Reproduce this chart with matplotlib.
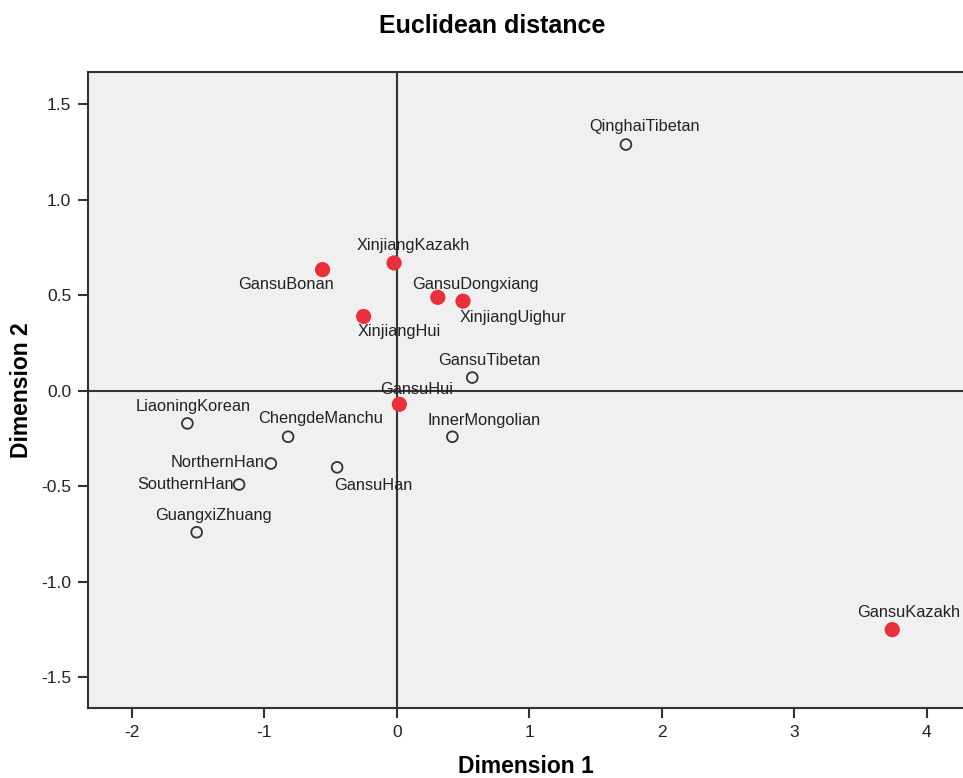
import matplotlib.pyplot as plt

plt.rcParams['font.family'] = ['Liberation Sans', 'DejaVu Sans']
plt.rcParams['axes.unicode_minus'] = False

names = ['QinghaiTibetan', 'XinjiangKazakh', 'GansuBonan', 'GansuDongxiang',
         'XinjiangUighur', 'XinjiangHui', 'GansuTibetan', 'GansuHui',
         'LiaoningKorean', 'ChengdeManchu', 'InnerMongolian', 'NorthernHan',
         'GansuHan', 'SouthernHan', 'GuangxiZhuang', 'GansuKazakh']
dim1 = [1.73, -0.02, -0.56, 0.31, 0.50, -0.25, 0.57, 0.02,
        -1.58, -0.82, 0.42, -0.95, -0.45, -1.19, -1.51, 3.74]
dim2 = [1.29, 0.67, 0.635, 0.49, 0.47, 0.39, 0.07, -0.07,
        -0.17, -0.24, -0.24, -0.38, -0.40, -0.49, -0.74, -1.25]
highlight = [False, True, True, True, True, True, False, True,
             False, False, False, False, False, False, False, True]

# label offsets in pixels (dx, dy, horizontal alignment)
label_pos = {
    'QinghaiTibetan': (19, 18, 'center'), 'XinjiangKazakh': (19, 17, 'center'),
    'GansuBonan': (-37, -15, 'center'), 'GansuDongxiang': (38, 13, 'center'),
    'XinjiangUighur': (50, -16, 'center'), 'XinjiangHui': (36, -15, 'center'),
    'GansuTibetan': (17, 17, 'center'), 'GansuHui': (17, 15, 'center'),
    'LiaoningKorean': (6, 17, 'center'), 'ChengdeManchu': (32, 18, 'center'),
    'InnerMongolian': (32, 16, 'center'), 'NorthernHan': (-6, 1, 'right'),
    'GansuHan': (36, -18, 'center'), 'SouthernHan': (-5, 0, 'right'),
    'GuangxiZhuang': (17, 17, 'center'), 'GansuKazakh': (16, 17, 'center'),
}

fig = plt.figure(figsize=(9.63, 7.78), dpi=100)
ax = fig.add_axes([0.0914, 0.09, 0.9086, 0.8175])
ax.set_facecolor('#f0f0f0')

ax.axhline(0, color='#333333', lw=1.5, zorder=1)
ax.axvline(0, color='#333333', lw=1.5, zorder=1)

for n, x, y, h in zip(names, dim1, dim2, highlight):
    if h:
        ax.scatter(x, y, s=120, color='#e8303a', edgecolors='none', zorder=3)
    else:
        ax.scatter(x, y, s=60, facecolors='none', edgecolors='#333333',
                   linewidths=1.3, zorder=3)
    dx, dy, ha = label_pos[n]
    ax.annotate(n, (x, y), xytext=(dx, dy), textcoords='offset pixels',
                ha=ha, va='center', fontsize=11.8, color='#222222', zorder=4)

ax.set_xlim(-2.33, 4.274)
ax.set_ylim(-1.66, 1.67)
ax.set_xticks([-2, -1, 0, 1, 2, 3, 4])
ax.set_yticks([-1.5, -1.0, -0.5, 0.0, 0.5, 1.0, 1.5])
ax.set_yticklabels(['-1.5', '-1.0', '-0.5', '0.0', '0.5', '1.0', '1.5'])
ax.tick_params(direction='out', length=7, width=1.5, labelsize=12.5,
               colors='#333333', labelcolor='#222222', pad=5)
for s in ['left', 'bottom', 'top']:
    ax.spines[s].set_linewidth(1.5)
    ax.spines[s].set_color('#333333')
ax.spines['right'].set_visible(False)

ax.set_xlabel('Dimension 1', fontsize=16.5, fontweight='bold', labelpad=11)
ax.set_ylabel('Dimension 2', fontsize=16.5, fontweight='bold', labelpad=6)
fig.suptitle('Euclidean distance', fontsize=18, fontweight='bold', x=0.511, y=0.982)

fig.savefig('out.png', dpi=100)
